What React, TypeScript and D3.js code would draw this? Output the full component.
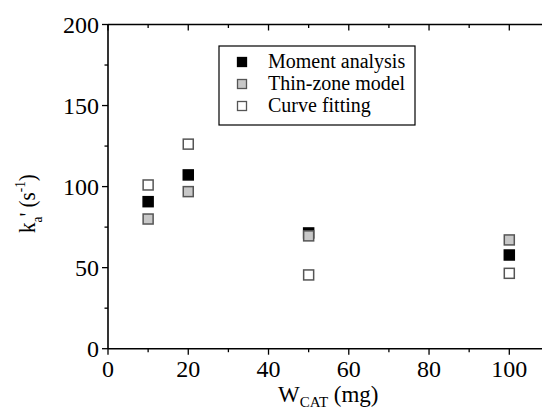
import React from 'react';
import * as d3 from 'd3';

// catalyst mass (mg)
const wcat = [10, 20, 50, 100];
// k'a (1/s) per method
const moment = [90.7, 107.2, 71.4, 57.8];
const thinZone = [80, 96.9, 69.6, 67.1];
const curveFit = [101, 126.2, 45.5, 46.5];

const xTicks = [0, 20, 40, 60, 80, 100];
const yTicks = [0, 50, 100, 150, 200];

const series = [
  { name: 'Moment analysis', values: moment, fill: '#000', stroke: '#000' },
  { name: 'Thin-zone model', values: thinZone, fill: '#c8c8c8', stroke: '#555' },
  { name: 'Curve fitting', values: curveFit, fill: '#fff', stroke: '#555' },
];

const W = 542, H = 414;
const left = 108, top = 24.5, bottom = 348.7;
const font = '"Liberation Serif", "Times New Roman", serif';

export default function App() {
  const x = d3.scaleLinear().domain([0, 100]).range([left, 509.3]);
  const y = d3.scaleLinear().domain([0, 200]).range([bottom, top]);
  const xMinor = d3.range(10, 110, 20);
  const yMinor = d3.range(25, 200, 50);
  const right = W + 5;
  const ms = 10;

  return (
    <svg width={W} height={H} style={{ position: 'absolute', left: 0, top: 0, background: '#fff' }}
      fontFamily={font}>
      {/* axes frame */}
      <line x1={left} x2={right} y1={bottom} y2={bottom} stroke="#000" strokeWidth={1.6} />
      <line x1={left} x2={right} y1={top} y2={top} stroke="#000" strokeWidth={1.6} />
      <line x1={left} x2={left} y1={top} y2={bottom} stroke="#000" strokeWidth={1.6} />

      {/* x ticks */}
      {xTicks.map(t => (
        <g key={'x' + t}>
          <line x1={x(t)} x2={x(t)} y1={bottom} y2={bottom + 6} stroke="#000" strokeWidth={1.3} />
          <line x1={x(t)} x2={x(t)} y1={top} y2={top + 6} stroke="#000" strokeWidth={1.3} />
          <text x={x(t)} y={377} fontSize={24} textAnchor="middle">{t}</text>
        </g>
      ))}
      {xMinor.map(t => (
        <g key={'xm' + t}>
          <line x1={x(t)} x2={x(t)} y1={bottom} y2={bottom + 3.5} stroke="#000" strokeWidth={1.3} />
          <line x1={x(t)} x2={x(t)} y1={top} y2={top + 3.5} stroke="#000" strokeWidth={1.3} />
        </g>
      ))}

      {/* y ticks */}
      {yTicks.map(t => (
        <g key={'y' + t}>
          <line x1={left - 6} x2={left} y1={y(t)} y2={y(t)} stroke="#000" strokeWidth={1.3} />
          <text x={99} y={y(t) + 8} fontSize={24} textAnchor="end">{t}</text>
        </g>
      ))}
      {yMinor.map(t => (
        <line key={'ym' + t} x1={left - 3.5} x2={left} y1={y(t)} y2={y(t)} stroke="#000" strokeWidth={1.3} />
      ))}

      {/* axis titles */}
      <text x={278} y={402} fontSize={23}>
        W<tspan fontSize={15} dy={5}>CAT</tspan><tspan dy={-5}> (mg)</tspan>
      </text>
      <text transform="translate(35,233) rotate(-90) scale(0.88,1)" fontSize={24}>
        k<tspan fontSize={15} dy={7}>a</tspan><tspan dy={-7}>' (s</tspan><tspan fontSize={15} dy={-10}>-1</tspan><tspan dy={10}>)</tspan>
      </text>

      {/* points */}
      {series.map(s => (
        <g key={s.name}>
          {s.values.map((v, i) => (
            <rect key={i} x={x(wcat[i]) - ms / 2} y={y(v) - ms / 2} width={ms} height={ms}
              fill={s.fill} stroke={s.stroke} strokeWidth={1.5} />
          ))}
        </g>
      ))}

      {/* legend */}
      <rect x={219} y={46} width={196} height={79} fill="#fff" stroke="#000" strokeWidth={1.2} />
      {series.map((s, i) => (
        <g key={'lg' + s.name}>
          <rect x={242 - 4.5} y={62 + i * 22 - 4.5} width={9} height={9}
            fill={s.fill} stroke={s.stroke} strokeWidth={1.3} />
          <text x={268} y={68 + i * 22} fontSize={20}>{s.name}</text>
        </g>
      ))}
    </svg>
  );
}
